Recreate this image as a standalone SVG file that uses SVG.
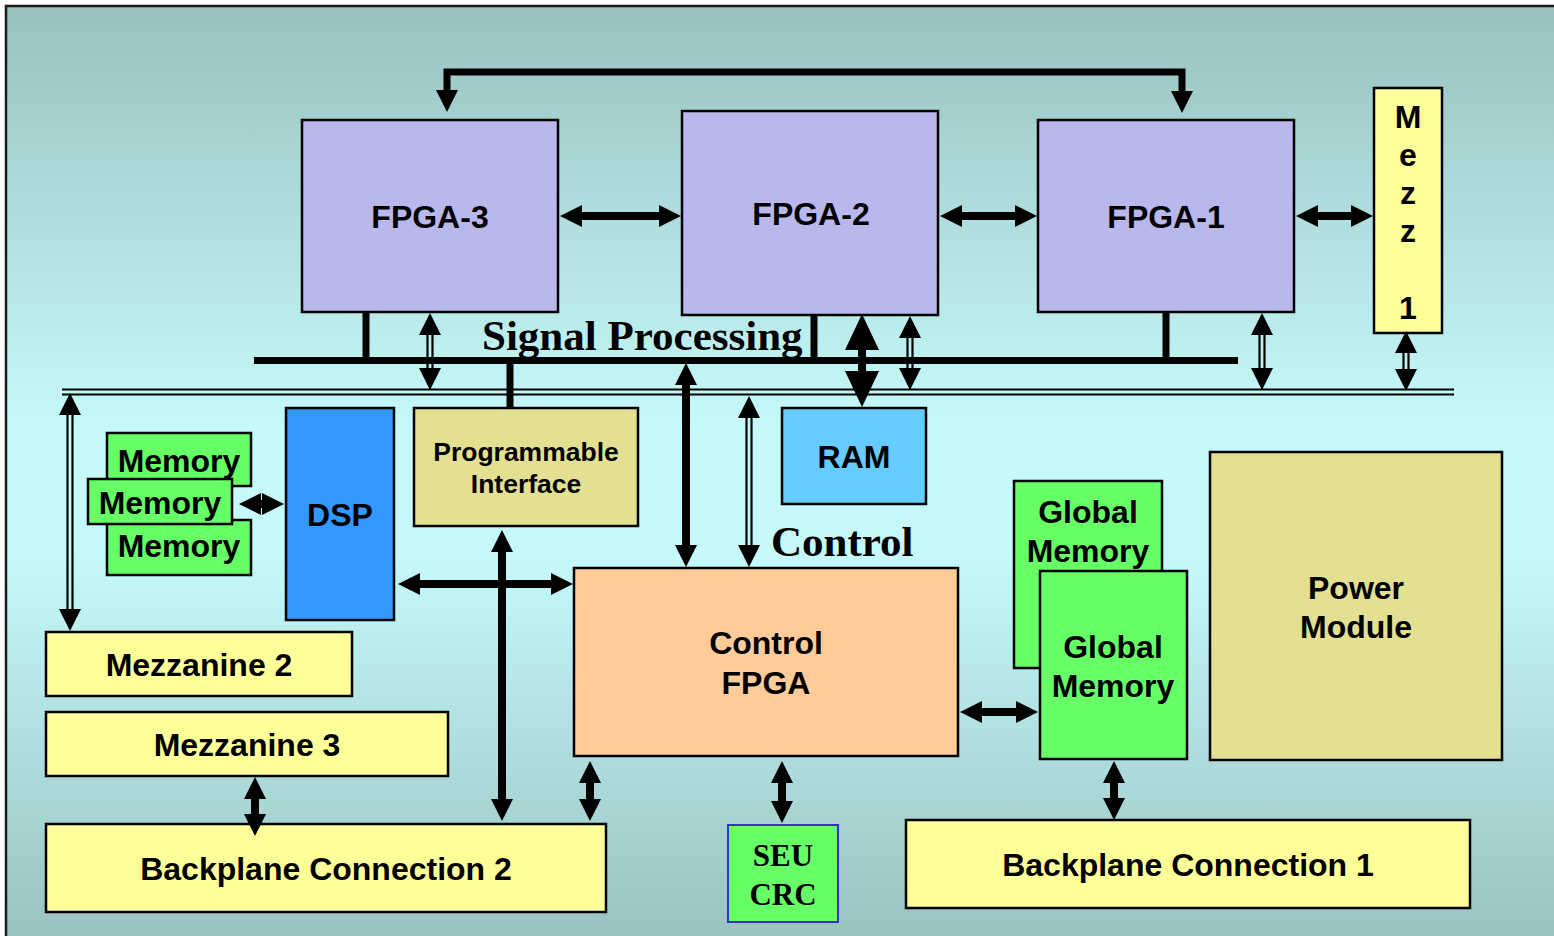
<svg xmlns="http://www.w3.org/2000/svg" width="1554" height="936" viewBox="0 0 1554 936">
  <defs>
    <linearGradient id="bg" x1="0" y1="0" x2="0" y2="1">
      <stop offset="0" stop-color="#99c1c1"/>
      <stop offset="0.45" stop-color="#c6fafa"/>
      <stop offset="0.58" stop-color="#c6fafa"/>
      <stop offset="1" stop-color="#99c1c1"/>
    </linearGradient>
    <!-- arrowheads: reference point sits on the head base, tip extends forward -->
    <marker id="ah" markerUnits="userSpaceOnUse" markerWidth="22" markerHeight="22" refX="0" refY="11" orient="auto-start-reverse" overflow="visible">
      <path d="M-1,0 L21,11 L-1,22 Z" fill="#000"/>
    </marker>
    <marker id="ahBig" markerUnits="userSpaceOnUse" markerWidth="36" markerHeight="34" refX="0" refY="17" orient="auto-start-reverse" overflow="visible">
      <path d="M-1,0 L35,17 L-1,34 Z" fill="#000"/>
    </marker>
    <style>
      .box { stroke: #000; stroke-width: 2.5; }
      .fpga { fill: #b8b8ec; }
      .yel { fill: #ffff99; }
      .khaki { fill: #e3e092; }
      .grn { fill: #66ff66; }
      .t { font-family: "Liberation Sans", Arial, sans-serif; font-weight: bold; font-size: 32px; text-anchor: middle; fill: #000; }
      .t26 { font-size: 26.5px; }
      .serif { font-family: "Liberation Serif", "Times New Roman", serif; font-weight: bold; fill: #000; }
      .shaft { stroke: #000; stroke-width: 8; fill: none; }
      .thin { stroke: #000; stroke-width: 2.2; }
      .arr { marker-start: url(#ah); marker-end: url(#ah); }
      .bus { stroke: #000; stroke-width: 7; }
    </style>
  </defs>

  <!-- board outline -->
  <rect x="6" y="6" width="1560" height="940" fill="url(#bg)" stroke="#1a1a1a" stroke-width="2.5"/>

  <g id="nodes">
    <g id="fpga3"><rect class="box fpga" x="302" y="120" width="256" height="192"/><text class="t" x="430" y="228">FPGA-3</text></g>
    <g id="fpga2"><rect class="box fpga" x="682" y="111" width="256" height="204"/><text class="t" x="811" y="225">FPGA-2</text></g>
    <g id="fpga1"><rect class="box fpga" x="1038" y="120" width="256" height="192"/><text class="t" x="1166" y="228">FPGA-1</text></g>
    <g id="mezz1">
      <rect class="box yel" x="1374" y="88" width="68" height="245"/>
      <text class="t" x="1408" y="128">M</text>
      <text class="t" x="1408" y="166">e</text>
      <text class="t" x="1408" y="204">z</text>
      <text class="t" x="1408" y="242">z</text>
      <text class="t" x="1408" y="319">1</text>
    </g>
    <g id="memory-top"><rect class="box grn" x="107" y="433" width="144" height="53"/><text class="t" x="179" y="472">Memory</text></g>
    <g id="memory-bottom"><rect class="box grn" x="107" y="520" width="144" height="55"/><text class="t" x="179" y="557">Memory</text></g>
    <g id="memory-middle"><rect class="box grn" x="88" y="479" width="144" height="45"/><text class="t" x="160" y="514">Memory</text></g>
    <g id="dsp"><rect class="box" fill="#3399ff" x="286" y="408" width="108" height="212"/><text class="t" x="340" y="526">DSP</text></g>
    <g id="prog-if">
      <rect class="box khaki" x="414" y="408" width="224" height="118"/>
      <text class="t t26" x="526" y="461">Programmable</text>
      <text class="t t26" x="526" y="493">Interface</text>
    </g>
    <g id="ram"><rect class="box" fill="#66ccff" x="782" y="408" width="144" height="96"/><text class="t" x="854" y="468">RAM</text></g>
    <g id="control-fpga">
      <rect class="box" fill="#ffcc99" x="574" y="568" width="384" height="188"/>
      <text class="t" x="766" y="654">Control</text>
      <text class="t" x="766" y="694">FPGA</text>
    </g>
    <g id="global-mem-back">
      <rect class="box grn" x="1014" y="481" width="148" height="187"/>
      <text class="t" x="1088" y="523">Global</text>
      <text class="t" x="1088" y="562">Memory</text>
    </g>
    <g id="global-mem-front">
      <rect class="box grn" x="1040" y="571" width="147" height="188"/>
      <text class="t" x="1113" y="658">Global</text>
      <text class="t" x="1113" y="697">Memory</text>
    </g>
    <g id="power">
      <rect class="box khaki" x="1210" y="452" width="292" height="308"/>
      <text class="t" x="1356" y="599">Power</text>
      <text class="t" x="1356" y="638">Module</text>
    </g>
    <g id="mezz2"><rect class="box yel" x="46" y="632" width="306" height="64"/><text class="t" x="199" y="676">Mezzanine 2</text></g>
    <g id="mezz3"><rect class="box yel" x="46" y="712" width="402" height="64"/><text class="t" x="247" y="756">Mezzanine 3</text></g>
    <g id="backplane2"><rect class="box yel" x="46" y="824" width="560" height="88"/><text class="t" x="326" y="880">Backplane Connection 2</text></g>
    <g id="seu-crc">
      <rect fill="#66ff66" stroke="#3333cc" stroke-width="2" x="728" y="825" width="110" height="97"/>
      <text class="serif" x="783" y="866" font-size="31" text-anchor="middle">SEU</text>
      <text class="serif" x="783" y="905" font-size="31" text-anchor="middle">CRC</text>
    </g>
    <g id="backplane1"><rect class="box yel" x="906" y="820" width="564" height="88"/><text class="t" x="1188" y="876">Backplane Connection 1</text></g>
  </g>

  <g id="labels">
    <text class="serif" x="482" y="350" font-size="43">Signal Processing</text>
    <text class="serif" x="771" y="556" font-size="43">Control</text>
  </g>

  <g id="connectors">
    <!-- signal processing bus and its taps -->
    <line class="bus" x1="254" y1="360.5" x2="1238" y2="360.5"/>
    <line class="bus" x1="366" y1="313" x2="366" y2="358"/>
    <line class="bus" x1="1166" y1="313" x2="1166" y2="358"/>
    <line class="bus" x1="814" y1="315" x2="814" y2="358" stroke-width="6.5"/>
    <line class="bus" x1="510" y1="363" x2="510" y2="408"/>

    <!-- control bus (double line) -->
    <line class="thin" x1="62" y1="389.5" x2="1454" y2="389.5"/>
    <line class="thin" x1="62" y1="394.5" x2="1454" y2="394.5"/>

    <!-- loop from FPGA-3 over to FPGA-1 -->
    <path class="arr" d="M447,91 L447,72 L1182,72 L1182,92" stroke="#000" stroke-width="7" fill="none" stroke-linejoin="miter"/>

    <!-- solid arrows -->
    <line class="shaft arr" x1="581" y1="216" x2="660" y2="216"/>
    <line class="shaft arr" x1="961" y1="216" x2="1016" y2="216"/>
    <line class="shaft arr" x1="1317" y1="216" x2="1352" y2="216"/>
    <line class="shaft" x1="862" y1="349" x2="862" y2="372" marker-start="url(#ahBig)" marker-end="url(#ahBig)"/>
    <line class="shaft arr" x1="686" y1="384" x2="686" y2="546"/>
    <line class="shaft arr" x1="419" y1="584" x2="552" y2="584"/>
    <line class="shaft arr" x1="502" y1="551" x2="502" y2="800"/>
    <line class="shaft arr" x1="255" y1="798" x2="255" y2="815"/>
    <line class="shaft arr" x1="590" y1="782" x2="590" y2="800"/>
    <line class="shaft arr" x1="782" y1="782" x2="782" y2="802"/>
    <line class="shaft arr" x1="981" y1="712" x2="1017" y2="712"/>
    <line class="shaft arr" x1="1114" y1="782" x2="1114" y2="799"/>
    <line class="shaft arr" x1="260" y1="504" x2="263" y2="504"/>

    <!-- double-shaft arrows to the control bus -->
    <g id="d-fpga3">
      <line class="thin" x1="427.5" y1="330" x2="427.5" y2="372"/><line class="thin" x1="432.5" y1="330" x2="432.5" y2="372"/>
      <path class="arr" d="M430,334 L430,369" stroke="none"/>
    </g>
    <g id="d-fpga2">
      <line class="thin" x1="907.5" y1="333" x2="907.5" y2="372"/><line class="thin" x1="912.5" y1="333" x2="912.5" y2="372"/>
      <path class="arr" d="M910,337 L910,369" stroke="none"/>
    </g>
    <g id="d-fpga1">
      <line class="thin" x1="1259.5" y1="330" x2="1259.5" y2="372"/><line class="thin" x1="1264.5" y1="330" x2="1264.5" y2="372"/>
      <path class="arr" d="M1262,334 L1262,369" stroke="none"/>
    </g>
    <g id="d-mezz1">
      <line class="thin" x1="1403.5" y1="348" x2="1403.5" y2="373"/><line class="thin" x1="1408.5" y1="348" x2="1408.5" y2="373"/>
      <path class="arr" d="M1406,352 L1406,370" stroke="none"/>
    </g>
    <g id="d-mezz2">
      <line class="thin" x1="67.5" y1="410" x2="67.5" y2="613"/><line class="thin" x1="72.5" y1="410" x2="72.5" y2="613"/>
      <path class="arr" d="M70,414 L70,610" stroke="none"/>
    </g>
    <g id="d-control">
      <line class="thin" x1="746.5" y1="413" x2="746.5" y2="549"/><line class="thin" x1="751.5" y1="413" x2="751.5" y2="549"/>
      <path class="arr" d="M749,417 L749,546" stroke="none"/>
    </g>
  </g>
</svg>
